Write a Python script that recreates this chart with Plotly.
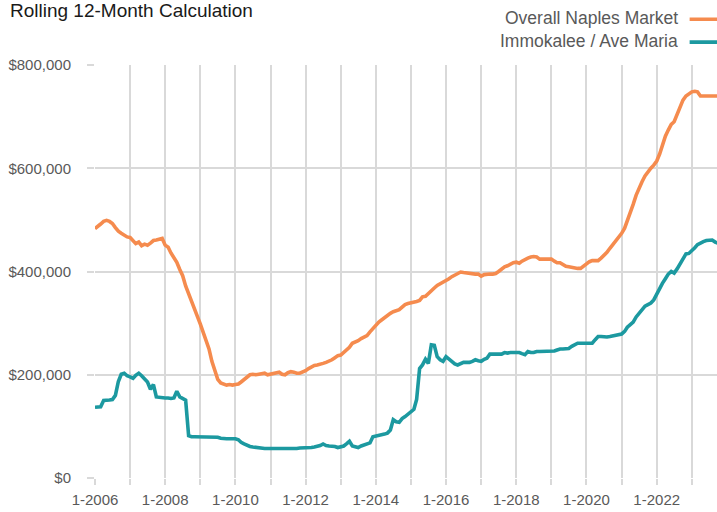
import pandas as pd
import plotly.graph_objects as go

# Rolling 12-month median sale price, monthly from Jan 2006 (values in $ thousands)
naples_k = [
    483, 487, 492, 497, 499, 497, 493, 485, 478, 474, 470, 467,   # 2006
    466, 460, 454, 457, 450, 453, 451, 455, 460, 461, 463, 464,   # 2007
    451, 447, 436, 428, 418, 404, 392, 372, 358, 344, 327, 313,   # 2008
    298, 282, 268, 250, 226, 205, 191, 184, 181, 180, 181, 180,   # 2009
    181, 182, 186, 191, 196, 200, 201, 200, 201, 202, 203, 200,   # 2010
    201, 202, 204, 205, 201, 200, 204, 206, 205, 203, 203, 205,   # 2011
    208, 212, 215, 218, 219, 220, 222, 224, 226, 229, 233, 237,   # 2012
    238, 243, 249, 253, 261, 263, 266, 270, 274, 276, 283, 290,   # 2013
    296, 302, 306, 311, 315, 319, 322, 324, 326, 331, 336, 338,   # 2014
    339, 340, 342, 344, 351, 352, 358, 363, 368, 373, 376, 380,   # 2015
    383, 386, 390, 393, 397, 399, 398, 397, 396, 396, 395, 395,   # 2016
    391, 394, 395, 395, 395, 396, 400, 405, 409, 411, 414, 417,   # 2017
    418, 416, 420, 424, 426, 428, 429, 428, 424, 424, 424, 424,   # 2018
    424, 420, 417, 417, 413, 410, 409, 408, 406, 406, 406, 410,   # 2019
    416, 419, 421, 421, 421, 426, 431, 437, 445, 452, 462, 469,   # 2020
    474, 484, 497, 513, 530, 548, 562, 574, 585, 594, 600, 606,   # 2021
    614, 628, 645, 662, 674, 685, 690, 703, 718, 732, 740, 745,   # 2022
    748, 749, 748, 740, 740, 740, 740, 740, 740, 740,             # 2023
]

immokalee_k = [
    137, 137, 138, 150, 150, 151, 152, 160, 187, 201, 203, 198,   # 2006
    196, 193, 199, 203, 198, 192, 186, 172, 181, 157, 156, 156,   # 2007
    155, 155, 154, 155, 168, 157, 153, 151, 82, 80, 80, 80,       # 2008
    80, 80, 80, 80, 80, 80, 79, 77, 76, 76, 76, 76,               # 2009
    76, 74, 69, 66, 63, 61, 60, 59, 58, 58, 57, 57,               # 2010
    57, 57, 56, 56, 56, 56, 56, 57, 57, 57, 58, 58,               # 2011
    58, 59, 59, 60, 61, 63, 66, 63, 62, 62, 61, 59,               # 2012
    61, 62, 66, 71, 62, 60, 59, 62, 64, 66, 68, 80,               # 2013
    81, 82, 84, 85, 87, 93, 113, 109, 108, 115, 119, 123,         # 2014
    129, 133, 152, 212, 219, 230, 222, 258, 257, 235, 229, 226,   # 2015
    235, 230, 224, 221, 219, 222, 224, 224, 224, 226, 229, 227,   # 2016
    226, 230, 232, 240, 240, 240, 241, 240, 243, 242, 243, 243,   # 2017
    243, 243, 241, 239, 245, 243, 243, 245, 245, 245, 245, 245,   # 2018
    245, 246, 248, 250, 250, 250, 251, 255, 258, 261, 261, 261,   # 2019
    261, 261, 261, 268, 274, 274, 273, 273, 274, 275, 276, 277,   # 2020
    279, 284, 292, 297, 302, 312, 319, 327, 333, 336, 339, 345,   # 2021
    357, 366, 377, 386, 395, 400, 397, 405, 414, 425, 434, 435,   # 2022
    440, 446, 452, 456, 458, 460, 461, 461, 457, 455,             # 2023
]

series_names = ["Overall Naples Market", "Immokalee / Ave Maria"]
series_colors = ["#F58B4E", "#1C99A0"]

y_ticks = [0, 200000, 400000, 600000, 800000]
y_tick_labels = ["$0", "$200,000", "$400,000", "$600,000", "$800,000"]
x_tick_years = list(range(2006, 2024))
x_tick_labels = [f"1-{y}" if y % 2 == 0 else "" for y in x_tick_years]

months = pd.date_range("2006-01-01", periods=len(naples_k), freq="MS")

GRID = "#d9d9d9"
FONT_FAMILY = "Liberation Sans, Arial, sans-serif"
TICK_FONT = dict(family=FONT_FAMILY, size=15, color="#595959")

fig = go.Figure()
for name, vals, color in zip(series_names, [naples_k, immokalee_k], series_colors):
    fig.add_trace(go.Scatter(
        x=months, y=[v * 1000 for v in vals], mode="lines", name=name,
        line=dict(color=color, width=3.6), showlegend=False,
    ))

fig.update_xaxes(
    type="date",
    range=["2006-01-01", "2023-09-20"],
    tickvals=[f"{y}-01-01" for y in x_tick_years],
    ticktext=x_tick_labels,
    showgrid=True, gridcolor=GRID, gridwidth=2,
    ticks="outside", ticklen=6, tickwidth=2, tickcolor=GRID,
    ticklabelstandoff=2,
    tickfont=TICK_FONT, showline=False, zeroline=False,
)
fig.update_yaxes(
    range=[0, 800000],
    tickvals=y_ticks, ticktext=y_tick_labels,
    showgrid=True, gridcolor=GRID, gridwidth=2,
    ticks="outside", ticklen=7, tickwidth=2, tickcolor=GRID,
    ticklabelstandoff=13,
    tickfont=TICK_FONT, showline=False, zeroline=False,
)

# Legend drawn as right-aligned labels followed by colour swatches
legend_y = [1.1148, 1.0593]
for name, color, ly in zip(series_names, series_colors, legend_y):
    fig.add_annotation(
        x=0.9405, y=ly, xref="paper", yref="paper", text=name,
        showarrow=False, xanchor="right", yanchor="middle",
        font=dict(family=FONT_FAMILY, size=17.5, color="#595959"),
    )
    fig.add_shape(
        type="line", xref="paper", yref="paper",
        x0=0.956, x1=1.03, y0=ly - 0.004, y1=ly - 0.004,
        line=dict(color=color, width=3.6),
    )

fig.add_annotation(
    x=-0.1399, y=1.1319, xref="paper", yref="paper",
    text="Rolling 12-Month Calculation", showarrow=False,
    xanchor="left", yanchor="middle",
    font=dict(family=FONT_FAMILY, size=19, color="#1a1a1a"),
)

fig.update_layout(
    width=717, height=512,
    margin=dict(l=95, r=0, t=65, b=34),
    paper_bgcolor="white", plot_bgcolor="white",
)

fig.write_html("out.html")
